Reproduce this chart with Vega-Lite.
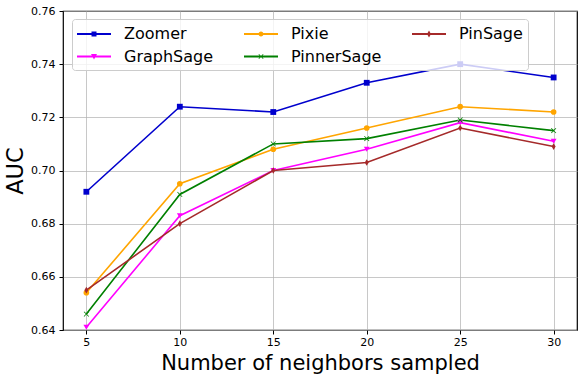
{
  "$schema": "https://vega.github.io/schema/vega-lite/v6.json",
  "width": 514,
  "height": 319,
  "autosize": {"type": "none"},
  "padding": {"left": 63, "top": 11, "right": 5, "bottom": 46},
  "config": {
    "font": "DejaVu Sans",
    "view": {"stroke": "black", "strokeWidth": 1.2},
    "axis": {
      "labelFont": "DejaVu Sans", "titleFont": "DejaVu Sans",
      "labelFontSize": 11, "labelColor": "black", "titleColor": "black",
      "titleFontWeight": "normal",
      "domain": false, "tickColor": "black", "tickSize": 4,
      "gridColor": "#b0b0b0", "gridOpacity": 0.7, "gridWidth": 1
    }
  },
  "data": {"values": [
    {"n": 5, "model": "Zoomer", "auc": 0.692},
    {"n": 10, "model": "Zoomer", "auc": 0.724},
    {"n": 15, "model": "Zoomer", "auc": 0.722},
    {"n": 20, "model": "Zoomer", "auc": 0.733},
    {"n": 25, "model": "Zoomer", "auc": 0.740},
    {"n": 30, "model": "Zoomer", "auc": 0.735},
    {"n": 5, "model": "GraphSage", "auc": 0.641},
    {"n": 10, "model": "GraphSage", "auc": 0.683},
    {"n": 15, "model": "GraphSage", "auc": 0.700},
    {"n": 20, "model": "GraphSage", "auc": 0.708},
    {"n": 25, "model": "GraphSage", "auc": 0.718},
    {"n": 30, "model": "GraphSage", "auc": 0.711},
    {"n": 5, "model": "Pixie", "auc": 0.654},
    {"n": 10, "model": "Pixie", "auc": 0.695},
    {"n": 15, "model": "Pixie", "auc": 0.708},
    {"n": 20, "model": "Pixie", "auc": 0.716},
    {"n": 25, "model": "Pixie", "auc": 0.724},
    {"n": 30, "model": "Pixie", "auc": 0.722},
    {"n": 5, "model": "PinnerSage", "auc": 0.646},
    {"n": 10, "model": "PinnerSage", "auc": 0.691},
    {"n": 15, "model": "PinnerSage", "auc": 0.710},
    {"n": 20, "model": "PinnerSage", "auc": 0.712},
    {"n": 25, "model": "PinnerSage", "auc": 0.719},
    {"n": 30, "model": "PinnerSage", "auc": 0.715},
    {"n": 5, "model": "PinSage", "auc": 0.655},
    {"n": 10, "model": "PinSage", "auc": 0.680},
    {"n": 15, "model": "PinSage", "auc": 0.700},
    {"n": 20, "model": "PinSage", "auc": 0.703},
    {"n": 25, "model": "PinSage", "auc": 0.716},
    {"n": 30, "model": "PinSage", "auc": 0.709}
  ]},
  "encoding": {
    "x": {"field": "n", "type": "quantitative",
      "scale": {"domain": [3.75, 31.25], "nice": false, "zero": false},
      "axis": {"values": [5, 10, 15, 20, 25, 30], "title": "Number of neighbors sampled", "titleFontSize": 21, "titlePadding": 5, "labelPadding": 2}},
    "y": {"field": "auc", "type": "quantitative",
      "scale": {"domain": [0.64, 0.76], "nice": false, "zero": false},
      "axis": {"values": [0.64, 0.66, 0.68, 0.70, 0.72, 0.74, 0.76], "format": ".2f", "title": "AUC", "titleFontSize": 22.5, "titlePadding": 3, "labelPadding": 4}},
    "color": {"field": "model", "type": "nominal", "legend": null,
      "scale": {"domain": ["Zoomer", "Pixie", "PinSage", "GraphSage", "PinnerSage"],
                "range": ["#0000cd", "#ffa500", "#a52a2a", "#ff00ff", "#008000"]}},
    "order": {"field": "n", "type": "quantitative"}
  },
  "layer": [
    {
      "mark": {"type": "line", "strokeWidth": 1.6},
      "encoding": {
        "color": {"field": "model", "type": "nominal",
          "legend": {"title": null, "orient": "none", "legendX": 9, "legendY": 8, "columns": 3,
            "direction": "horizontal", "labelFontSize": 16, "labelFont": "DejaVu Sans", "labelColor": "black",
            "columnPadding": 30, "rowPadding": 4.5, "symbolSize": 400, "labelOffset": 27,
            "padding": 5, "fillColor": "rgba(255,255,255,0.8)",
            "strokeColor": "#cccccc", "cornerRadius": 3,
            "encode": {"symbols": {"update": {
              "shape": {"signal": "datum.value === 'Zoomer' ? 'M-1,-0.1H2.4V0.1H-1Z M0.45,-0.25H0.95V0.25H0.45Z' : datum.value === 'Pixie' ? 'M-1,-0.1H2.4V0.1H-1Z M0.95,0 A0.25,0.25 0 1,1 0.45,0 A0.25,0.25 0 1,1 0.95,0Z' : datum.value === 'GraphSage' ? 'M-1,-0.1H2.4V0.1H-1Z M0.4,-0.25 L1,-0.25 L0.7,0.3Z' : datum.value === 'PinnerSage' ? 'M-1,-0.1H2.4V0.1H-1Z M0.45,-0.2L0.5,-0.25L0.7,-0.05L0.9,-0.25L0.95,-0.2L0.75,0L0.95,0.2L0.9,0.25L0.7,0.05L0.5,0.25L0.45,0.2L0.65,0Z' : 'M-1,-0.1H2.4V0.1H-1Z M0.7,-0.35 L0.9,0 L0.7,0.35 L0.5,0Z'"},
              "fill": {"signal": "scale('color', datum.value)"},
              "fillOpacity": {"value": 1},
              "opacity": {"value": 1},
              "strokeWidth": {"value": 0}
            }}}}}
      }
    },
    {
      "transform": [{"filter": "datum.model === 'Zoomer'"}],
      "mark": {"type": "point", "size": 34, "filled": true, "opacity": 1, "shape": "square"}
    },
    {
      "transform": [{"filter": "datum.model === 'GraphSage'"}],
      "mark": {"type": "point", "size": 34, "filled": true, "opacity": 1, "shape": "triangle-down"}
    },
    {
      "transform": [{"filter": "datum.model === 'Pixie'"}],
      "mark": {"type": "point", "size": 32, "filled": true, "opacity": 1, "shape": "circle"}
    },
    {
      "transform": [{"filter": "datum.model === 'PinnerSage'"}],
      "mark": {"type": "point", "size": 28, "filled": true, "opacity": 1, "shape": "M-1,-0.8L-0.8,-1L0,-0.2L0.8,-1L1,-0.8L0.2,0L1,0.8L0.8,1L0,0.2L-0.8,1L-1,0.8L-0.2,0Z"}
    },
    {
      "transform": [{"filter": "datum.model === 'PinSage'"}],
      "mark": {"type": "point", "size": 44, "filled": true, "opacity": 1, "shape": "M0,-1L0.6,0L0,1L-0.6,0Z"}
    }
  ]
}
